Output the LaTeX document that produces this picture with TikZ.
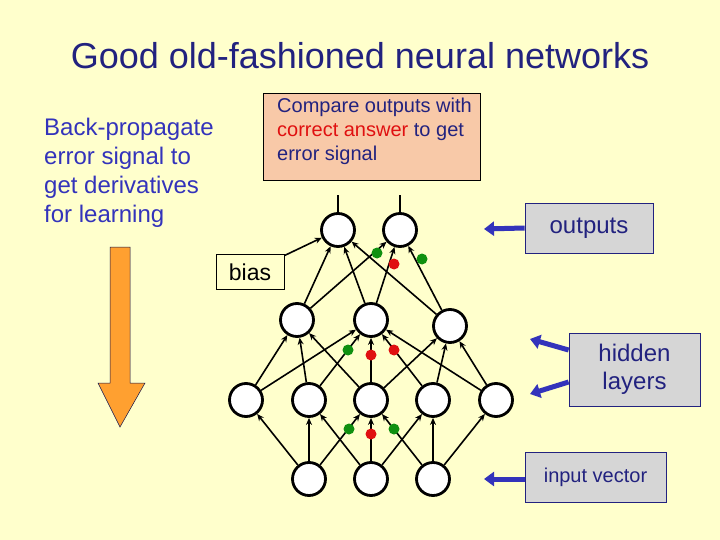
\documentclass[tikz,border=0pt]{standalone}
\usepackage{fontspec}
\setmainfont{Liberation Sans}
\usetikzlibrary{arrows.meta}
\definecolor{bg}{HTML}{FFFFCC}
\definecolor{tblue}{HTML}{22227F}
\definecolor{abblue}{HTML}{3333BB}
\definecolor{salmon}{HTML}{F8C9A8}
\definecolor{gbox}{HTML}{D6D6D6}
\definecolor{dgreen}{HTML}{109010}
\definecolor{dred}{HTML}{E01010}
\definecolor{orng}{HTML}{FFA030}
\begin{document}
\begin{tikzpicture}[x=1pt,y=-1pt,
  unit/.style={circle,draw=black,line width=2.8pt,fill=white,minimum size=33pt,inner sep=0pt},
  conn/.style={line width=1.6pt,-{Stealth[length=7pt,width=6pt]}},
  gdot/.style={circle,fill=dgreen,minimum size=11pt,inner sep=0pt},
  rdot/.style={circle,fill=dred,minimum size=11pt,inner sep=0pt},
  lbox/.style={draw=tblue,fill=gbox,line width=0.8pt,text=tblue,font=\fontsize{24}{28}\selectfont,align=center},
  barrow/.style={draw=abblue,line width=5pt,-{Triangle[length=10pt,width=14pt]}}]
\fill[bg] (0,0) rectangle (720,540);
\useasboundingbox (0,0) rectangle (720,540);
\node[text=tblue,font=\fontsize{36}{40}\selectfont] (title) at (360,56) {Good old-fashioned neural networks};
\node[text=abblue,font=\fontsize{24}{29}\selectfont,align=left,anchor=north west,inner sep=0pt] (bp) at (44,118) {Back-propagate\\error signal to\\get derivatives\\for learning};
\node[draw=black,line width=0.6pt,fill=salmon,minimum width=217pt,minimum height=87pt,anchor=north west,inner sep=0pt] (cmp) at (263,93) {};
\node[font=\fontsize{20}{24}\selectfont,align=left,anchor=north west,inner sep=0pt,text=tblue] (cmpt) at (277,98) {Compare outputs with\\\textcolor{dred}{correct answer} to get\\error signal};
% orange arrow
\draw[draw=tblue!60!black,line width=0.5pt,fill=orng] (110,247) -- (130,247) -- (130,383) -- (145,383) -- (120,427) -- (98,383) -- (110,383) -- cycle;
% nodes
\node[unit] (o1) at (338,230) {};
\node[unit] (o2) at (400,230) {};
\node[unit] (h2a) at (297,320) {};
\node[unit] (h2b) at (371,320) {};
\node[unit] (h2c) at (450,326) {};
\node[unit] (h1a) at (246,400) {};
\node[unit] (h1b) at (309,400) {};
\node[unit] (h1c) at (371,400) {};
\node[unit] (h1d) at (433,400) {};
\node[unit] (h1e) at (496,400) {};
\node[unit] (i1) at (309,479) {};
\node[unit] (i2) at (371,479) {};
\node[unit] (i3) at (433,479) {};
\node[draw=black,line width=0.6pt,fill=bg,minimum width=68pt,minimum height=35pt,inner sep=0pt,font=\fontsize{23}{26}\selectfont] (bias) at (250,272) {bias};
\coordinate (t1) at (338,195);
\coordinate (t2) at (400,195);
\foreach \a/\b in {i1/h1a,i1/h1b,i1/h1c,i2/h1b,i2/h1c,i2/h1d,i3/h1c,i3/h1d,i3/h1e,
  h1a/h2a,h1b/h2a,h1c/h2a,h1a/h2b,h1b/h2b,h1c/h2b,h1d/h2b,h1e/h2b,h1c/h2c,h1d/h2c,h1e/h2c,
  bias/o1,h2a/o1,h2b/o1,h2c/o1,h2a/o2,h2b/o2,h2c/o2}
  \draw[conn] (\a) -- (\b);
\draw[line width=1.6pt] (o1) -- (t1);
\draw[line width=1.6pt] (o2) -- (t2);
% dots
\node[gdot] (d1) at (377,253) {};
\node[rdot] (d2) at (394,264) {};
\node[gdot] (d3) at (422,259) {};
\node[gdot] (d4) at (348,350) {};
\node[rdot] (d5) at (371,355) {};
\node[rdot] (d6) at (394,350) {};
\node[gdot] (d7) at (349,429) {};
\node[rdot] (d8) at (371,434) {};
\node[gdot] (d9) at (394,429) {};
% label boxes
\node[lbox,minimum width=128pt,minimum height=50pt,inner sep=0pt] (outb) at (589,228) {outputs};
\node[lbox,minimum width=131pt,minimum height=73pt,inner sep=0pt] (hidb) at (634.5,369.5) {hidden\\layers};
\node[lbox,minimum width=141pt,minimum height=50pt,inner sep=0pt,font=\fontsize{20}{24}\selectfont] (inb) at (595.5,477) {input vector};
\coordinate (ao) at (484,229);
\coordinate (ah1) at (530,339);
\coordinate (ah2) at (530,394);
\coordinate (ai) at (484,479);
\draw[barrow] (outb.west) -- (ao);
\draw[barrow] (hidb.west|-0,350) -- (ah1);
\draw[barrow] (hidb.west|-0,382) -- (ah2);
\draw[barrow] (inb.west|-0,479) -- (ai);
\end{tikzpicture}
\end{document}
